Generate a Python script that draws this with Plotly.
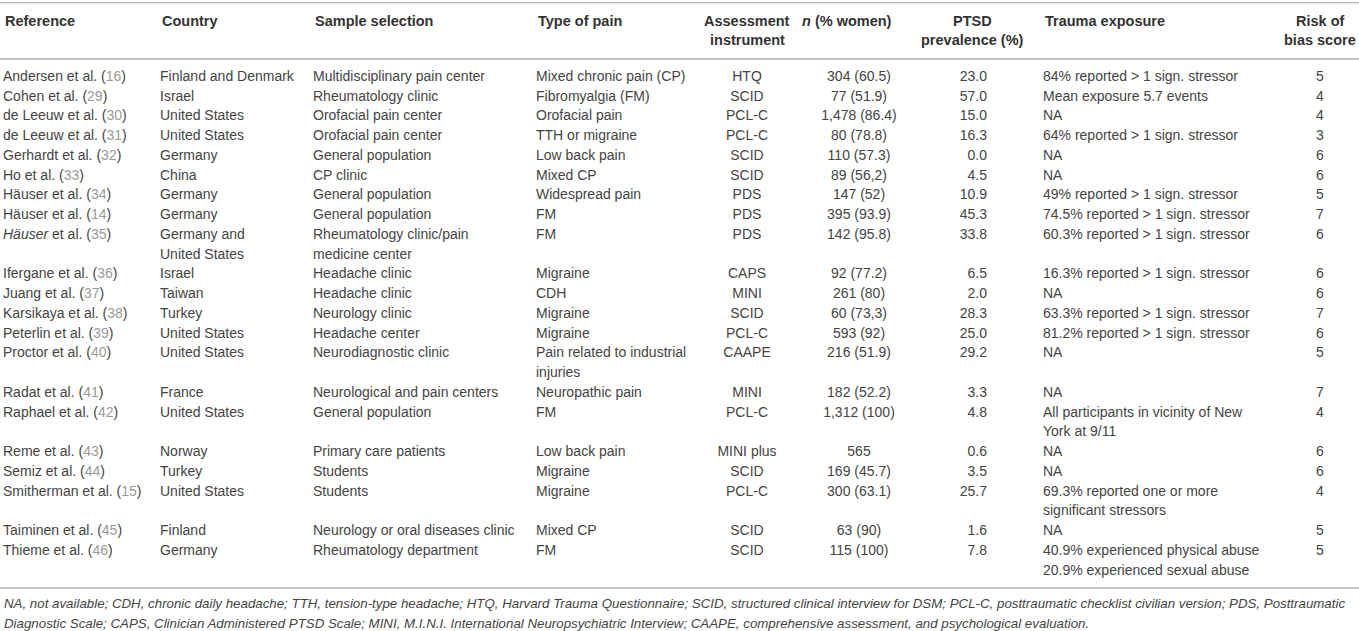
import plotly.graph_objects as go

# table content, one entry per study
ref_authors = ["Andersen et al.", "Cohen et al.", "de Leeuw et al.", "de Leeuw et al.", "Gerhardt et al.",
               "Ho et al.", "Häuser et al.", "Häuser et al.", "<i>Häuser</i> et al.", "Ifergane et al.",
               "Juang et al.", "Karsikaya et al.", "Peterlin et al.", "Proctor et al.", "Radat et al.",
               "Raphael et al.", "Reme et al.", "Semiz et al.", "Smitherman et al.", "Taiminen et al.",
               "Thieme et al."]
ref_numbers = [16, 29, 30, 31, 32, 33, 34, 14, 35, 36, 37, 38, 39, 40, 41, 42, 43, 44, 15, 45, 46]
countries = ["Finland and Denmark", "Israel", "United States", "United States", "Germany", "China",
             "Germany", "Germany", "Germany and\nUnited States", "Israel", "Taiwan", "Turkey",
             "United States", "United States", "France", "United States", "Norway", "Turkey",
             "United States", "Finland", "Germany"]
samples = ["Multidisciplinary pain center", "Rheumatology clinic", "Orofacial pain center",
           "Orofacial pain center", "General population", "CP clinic", "General population",
           "General population", "Rheumatology clinic/pain\nmedicine center", "Headache clinic",
           "Headache clinic", "Neurology clinic", "Headache center", "Neurodiagnostic clinic",
           "Neurological and pain centers", "General population", "Primary care patients", "Students",
           "Students", "Neurology or oral diseases clinic", "Rheumatology department"]
pain_types = ["Mixed chronic pain (CP)", "Fibromyalgia (FM)", "Orofacial pain", "TTH or migraine",
              "Low back pain", "Mixed CP", "Widespread pain", "FM", "FM", "Migraine", "CDH", "Migraine",
              "Migraine", "Pain related to industrial\ninjuries", "Neuropathic pain", "FM", "Low back pain",
              "Migraine", "Migraine", "Mixed CP", "FM"]
instruments = ["HTQ", "SCID", "PCL-C", "PCL-C", "SCID", "SCID", "PDS", "PDS", "PDS", "CAPS", "MINI",
               "SCID", "PCL-C", "CAAPE", "MINI", "PCL-C", "MINI plus", "SCID", "PCL-C", "SCID", "SCID"]
n_women = ["304 (60.5)", "77 (51.9)", "1,478 (86.4)", "80 (78.8)", "110 (57.3)", "89 (56,2)", "147 (52)",
           "395 (93.9)", "142 (95.8)", "92 (77.2)", "261 (80)", "60 (73,3)", "593 (92)", "216 (51.9)",
           "182 (52.2)", "1,312 (100)", "565", "169 (45.7)", "300 (63.1)", "63 (90)", "115 (100)"]
prevalence = [23.0, 57.0, 15.0, 16.3, 0.0, 4.5, 10.9, 45.3, 33.8, 6.5, 2.0, 28.3, 25.0, 29.2, 3.3, 4.8,
              0.6, 3.5, 25.7, 1.6, 7.8]
trauma = ["84% reported > 1 sign. stressor", "Mean exposure 5.7 events", "NA",
          "64% reported > 1 sign. stressor", "NA", "NA", "49% reported > 1 sign. stressor",
          "74.5% reported > 1 sign. stressor", "60.3% reported > 1 sign. stressor",
          "16.3% reported > 1 sign. stressor", "NA", "63.3% reported > 1 sign. stressor",
          "81.2% reported > 1 sign. stressor", "NA", "NA", "All participants in vicinity of New\nYork at 9/11",
          "NA", "NA", "69.3% reported one or more\nsignificant stressors", "NA",
          "40.9% experienced physical abuse\n20.9% experienced sexual abuse"]
bias_scores = [5, 4, 4, 3, 6, 6, 5, 7, 6, 6, 6, 7, 6, 5, 7, 4, 6, 6, 4, 5, 5]

headers = ["Reference", "Country", "Sample selection", "Type of pain", "Assessment\ninstrument",
           "<i>n</i> (% women)", "PTSD\nprevalence (%)", "Trauma exposure", "Risk of\nbias score"]
footnotes = ["NA, not available; CDH, chronic daily headache; TTH, tension-type headache; HTQ, Harvard Trauma "
             "Questionnaire; SCID, structured clinical interview for DSM; PCL-C, posttraumatic checklist civilian "
             "version; PDS, Posttraumatic",
             "Diagnostic Scale; CAPS, Clinician Administered PTSD Scale; MINI, M.I.N.I. International "
             "Neuropsychiatric Interview; CAAPE, comprehensive assessment, and psychological evaluation."]

W, H = 1359, 631
FONT = "Liberation Sans"
TXT = "#444444"
GREY = "#9a9a9a"
RULE = "#b5b5b5"
first_line = 77.3
step = 19.75

references = [a + ' (<span style="color:%s">%d</span>)' % (GREY, n) for a, n in zip(ref_authors, ref_numbers)]
prev_txt = ["%.1f" % v for v in prevalence]
score_txt = [str(s) for s in bias_scores]

# values, x anchor, text position
columns = [
    (references, 3, "middle right"),
    (countries, 160, "middle right"),
    (samples, 313, "middle right"),
    (pain_types, 536, "middle right"),
    (instruments, 747, "middle center"),
    (n_women, 859, "middle center"),
    (prev_txt, 987, "middle left"),
    (trauma, 1043, "middle right"),
    (score_txt, 1320, "middle center"),
]
header_x = [3, 160, 313, 536, 747, 800, 972, 1043, 1320]
header_anchor = ["left", "left", "left", "left", "center", "left", "center", "left", "center"]

# line index at which each row starts
row_start = []
k = 0
for i in range(len(ref_authors)):
    row_start.append(k)
    k += max(str(col[0][i]).count("\n") + 1 for col in columns)

fig = go.Figure()
for values, x0, pos in columns:
    xs, ys, ts = [], [], []
    for i, v in enumerate(values):
        for j, part in enumerate(str(v).split("\n")):
            xs.append(x0)
            ys.append(first_line + (row_start[i] + j) * step)
            ts.append(part)
    fig.add_trace(go.Scatter(x=xs, y=ys, text=ts, mode="text", textposition=pos,
                             textfont=dict(family=FONT, size=14, color=TXT),
                             hoverinfo="skip", showlegend=False))

annotations = []
for h, hx, anchor in zip(headers, header_x, header_anchor):
    for j, part in enumerate(h.split("\n")):
        annotations.append(dict(x=hx, y=20.7 + j * 19.4, text="<b>" + part + "</b>", showarrow=False,
                                xanchor=anchor, yanchor="middle",
                                font=dict(family=FONT, size=14.5, color="#333333")))
for i, f in enumerate(footnotes):
    annotations.append(dict(x=2, y=603 + i * 20, text="<i>" + f + "</i>", showarrow=False, xanchor="left",
                            yanchor="middle", font=dict(family=FONT, size=13.3, color=TXT)))

shapes = [dict(type="line", x0=0, x1=W, y0=yy, y1=yy, line=dict(color=RULE, width=1.3)) for yy in (2.7, 59, 588)]

fig.update_layout(width=W, height=H, margin=dict(l=0, r=0, t=0, b=0),
                  paper_bgcolor="white", plot_bgcolor="white",
                  xaxis=dict(range=[0, W], visible=False, fixedrange=True),
                  yaxis=dict(range=[H, 0], visible=False, fixedrange=True),
                  annotations=annotations, shapes=shapes)

fig.write_html("out.html", config={"displayModeBar": False},
               post_script="document.body.style.margin='0px'; document.body.style.overflow='hidden';")
